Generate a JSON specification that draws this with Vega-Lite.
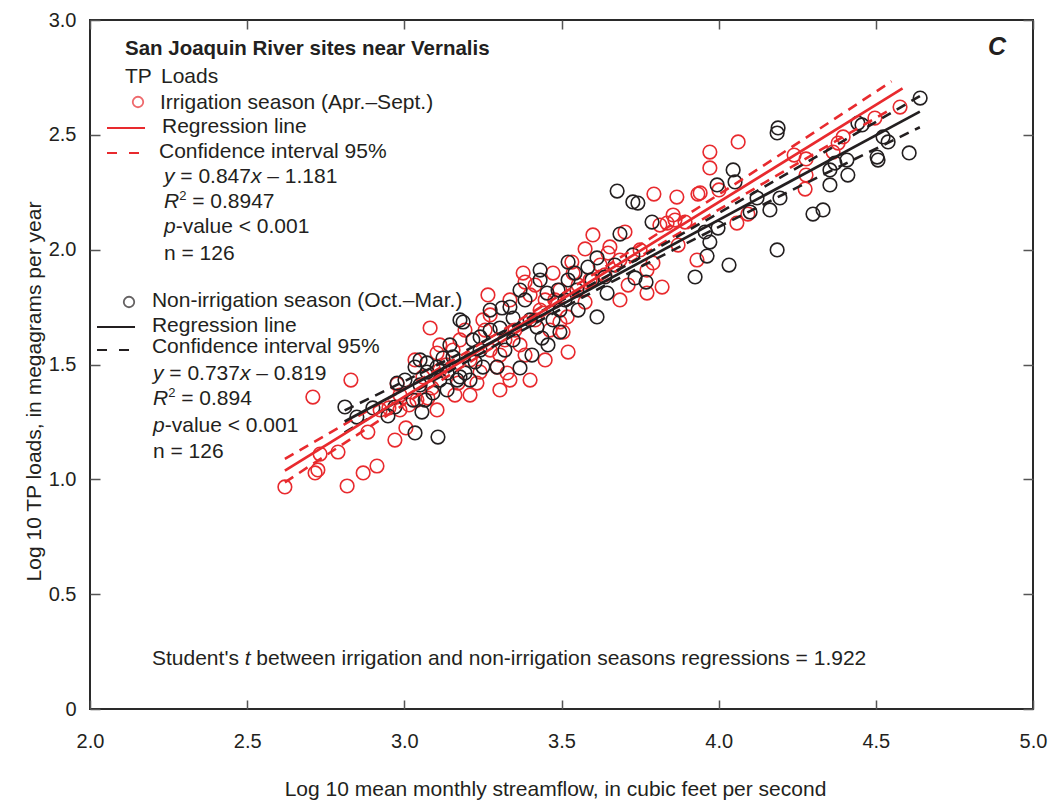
{
"$schema": "https://vega.github.io/schema/vega-lite/v6.json",
"width": 943, "height": 689,
"autosize": {"type": "none"},
"padding": {"left": 90, "top": 20, "right": 19, "bottom": 95},
"background": "white",
"config": {"view": {"stroke": "#2a2a2a", "strokeWidth": 2}, "font": "Liberation Sans"},
"datasets": {
"pts": [
{"s":"Irrigation","x":2.620,"y":0.967},{"s":"Irrigation","x":2.716,"y":1.028},{"s":"Irrigation","x":2.725,"y":1.041},{"s":"Irrigation","x":2.732,"y":1.110},{"s":"Irrigation","x":2.789,"y":1.119},{"s":"Irrigation","x":2.818,"y":0.971},{"s":"Irrigation","x":2.869,"y":1.028},{"s":"Irrigation","x":2.913,"y":1.058},{"s":"Irrigation","x":2.709,"y":1.358},{"s":"Irrigation","x":2.830,"y":1.432},
{"s":"Irrigation","x":2.884,"y":1.206},{"s":"Irrigation","x":2.970,"y":1.171},{"s":"Irrigation","x":3.005,"y":1.224},{"s":"Irrigation","x":2.977,"y":1.415},{"s":"Irrigation","x":3.082,"y":1.659},{"s":"Irrigation","x":3.104,"y":1.550},{"s":"Irrigation","x":3.059,"y":1.446},{"s":"Irrigation","x":3.040,"y":1.345},{"s":"Irrigation","x":3.075,"y":1.354},{"s":"Irrigation","x":3.088,"y":1.398},
{"s":"Irrigation","x":2.986,"y":1.302},{"s":"Irrigation","x":2.951,"y":1.311},{"s":"Irrigation","x":3.015,"y":1.324},{"s":"Irrigation","x":3.155,"y":1.563},{"s":"Irrigation","x":3.177,"y":1.607},{"s":"Irrigation","x":3.133,"y":1.498},{"s":"Irrigation","x":3.231,"y":1.419},{"s":"Irrigation","x":3.266,"y":1.803},{"s":"Irrigation","x":3.250,"y":1.694},{"s":"Irrigation","x":3.257,"y":1.650},
{"s":"Irrigation","x":3.295,"y":1.489},{"s":"Irrigation","x":3.327,"y":1.463},{"s":"Irrigation","x":3.336,"y":1.432},{"s":"Irrigation","x":3.378,"y":1.898},{"s":"Irrigation","x":3.384,"y":1.859},{"s":"Irrigation","x":3.400,"y":1.803},{"s":"Irrigation","x":3.473,"y":1.898},{"s":"Irrigation","x":3.533,"y":1.946},{"s":"Irrigation","x":3.518,"y":1.707},{"s":"Irrigation","x":3.521,"y":1.554},
{"s":"Irrigation","x":3.209,"y":1.520},{"s":"Irrigation","x":3.273,"y":1.563},{"s":"Irrigation","x":3.352,"y":1.650},{"s":"Irrigation","x":3.368,"y":1.585},{"s":"Irrigation","x":3.432,"y":1.737},{"s":"Irrigation","x":3.448,"y":1.781},{"s":"Irrigation","x":3.416,"y":1.694},{"s":"Irrigation","x":3.479,"y":1.781},{"s":"Irrigation","x":3.600,"y":2.064},{"s":"Irrigation","x":3.575,"y":2.003},
{"s":"Irrigation","x":3.654,"y":2.012},{"s":"Irrigation","x":3.648,"y":1.985},{"s":"Irrigation","x":3.537,"y":1.898},{"s":"Irrigation","x":3.772,"y":1.911},{"s":"Irrigation","x":3.791,"y":1.942},{"s":"Irrigation","x":3.712,"y":1.846},{"s":"Irrigation","x":3.772,"y":1.811},{"s":"Irrigation","x":3.820,"y":1.837},{"s":"Irrigation","x":3.575,"y":1.772},{"s":"Irrigation","x":3.495,"y":1.685},
{"s":"Irrigation","x":3.505,"y":1.641},{"s":"Irrigation","x":3.638,"y":1.890},{"s":"Irrigation","x":3.794,"y":2.242},{"s":"Irrigation","x":3.867,"y":2.229},{"s":"Irrigation","x":3.934,"y":2.242},{"s":"Irrigation","x":3.855,"y":2.151},{"s":"Irrigation","x":3.861,"y":2.129},{"s":"Irrigation","x":3.813,"y":2.107},{"s":"Irrigation","x":3.836,"y":2.116},{"s":"Irrigation","x":3.893,"y":2.120},
{"s":"Irrigation","x":3.871,"y":2.020},{"s":"Irrigation","x":3.931,"y":1.955},{"s":"Irrigation","x":3.972,"y":2.356},{"s":"Irrigation","x":3.972,"y":2.425},{"s":"Irrigation","x":4.062,"y":2.469},{"s":"Irrigation","x":3.941,"y":2.247},{"s":"Irrigation","x":4.001,"y":2.260},{"s":"Irrigation","x":4.240,"y":2.412},{"s":"Irrigation","x":4.278,"y":2.395},{"s":"Irrigation","x":4.278,"y":2.325},
{"s":"Irrigation","x":4.275,"y":2.264},{"s":"Irrigation","x":4.058,"y":2.116},{"s":"Irrigation","x":4.093,"y":2.155},{"s":"Irrigation","x":4.364,"y":2.425},{"s":"Irrigation","x":4.396,"y":2.491},{"s":"Irrigation","x":4.380,"y":2.464},{"s":"Irrigation","x":4.497,"y":2.573},{"s":"Irrigation","x":4.577,"y":2.621},{"s":"Irrigation","x":3.113,"y":1.476},{"s":"Irrigation","x":3.171,"y":1.419},
{"s":"Irrigation","x":3.209,"y":1.367},{"s":"Irrigation","x":3.241,"y":1.467},{"s":"Irrigation","x":3.304,"y":1.541},{"s":"Irrigation","x":3.320,"y":1.607},{"s":"Irrigation","x":3.384,"y":1.541},{"s":"Irrigation","x":3.400,"y":1.432},{"s":"Irrigation","x":3.448,"y":1.520},{"s":"Irrigation","x":3.463,"y":1.650},{"s":"Irrigation","x":3.495,"y":1.824},{"s":"Irrigation","x":3.553,"y":1.846},
{"s":"Irrigation","x":3.591,"y":1.868},{"s":"Irrigation","x":3.623,"y":1.933},{"s":"Irrigation","x":3.686,"y":1.955},{"s":"Irrigation","x":3.702,"y":2.077},{"s":"Irrigation","x":3.750,"y":1.999},{"s":"Irrigation","x":3.034,"y":1.520},{"s":"Irrigation","x":2.986,"y":1.367},{"s":"Irrigation","x":3.113,"y":1.585},{"s":"Irrigation","x":3.193,"y":1.650},{"s":"Irrigation","x":3.273,"y":1.716},
{"s":"Irrigation","x":3.336,"y":1.781},{"s":"Irrigation","x":3.416,"y":1.846},{"s":"Irrigation","x":3.304,"y":1.389},{"s":"Irrigation","x":2.923,"y":1.302},{"s":"Irrigation","x":3.104,"y":1.302},{"s":"Irrigation","x":3.161,"y":1.367},{"s":"Irrigation","x":3.686,"y":1.781},
{"s":"Non-irrigation","x":2.811,"y":1.315},{"s":"Non-irrigation","x":2.849,"y":1.271},{"s":"Non-irrigation","x":3.034,"y":1.202},{"s":"Non-irrigation","x":3.107,"y":1.184},{"s":"Non-irrigation","x":3.056,"y":1.293},{"s":"Non-irrigation","x":3.028,"y":1.345},{"s":"Non-irrigation","x":2.970,"y":1.315},{"s":"Non-irrigation","x":2.948,"y":1.276},{"s":"Non-irrigation","x":2.977,"y":1.419},{"s":"Non-irrigation","x":3.034,"y":1.489},
{"s":"Non-irrigation","x":3.072,"y":1.507},{"s":"Non-irrigation","x":3.104,"y":1.489},{"s":"Non-irrigation","x":3.091,"y":1.376},{"s":"Non-irrigation","x":3.136,"y":1.389},{"s":"Non-irrigation","x":3.168,"y":1.432},{"s":"Non-irrigation","x":3.177,"y":1.694},{"s":"Non-irrigation","x":3.187,"y":1.685},{"s":"Non-irrigation","x":3.193,"y":1.463},{"s":"Non-irrigation","x":3.218,"y":1.607},{"s":"Non-irrigation","x":3.241,"y":1.620},
{"s":"Non-irrigation","x":3.273,"y":1.737},{"s":"Non-irrigation","x":3.311,"y":1.746},{"s":"Non-irrigation","x":3.336,"y":1.750},{"s":"Non-irrigation","x":3.346,"y":1.702},{"s":"Non-irrigation","x":3.304,"y":1.659},{"s":"Non-irrigation","x":3.346,"y":1.607},{"s":"Non-irrigation","x":3.295,"y":1.489},{"s":"Non-irrigation","x":3.250,"y":1.489},{"s":"Non-irrigation","x":3.209,"y":1.432},{"s":"Non-irrigation","x":3.432,"y":1.911},
{"s":"Non-irrigation","x":3.432,"y":1.868},{"s":"Non-irrigation","x":3.521,"y":1.946},{"s":"Non-irrigation","x":3.543,"y":1.898},{"s":"Non-irrigation","x":3.549,"y":1.824},{"s":"Non-irrigation","x":3.489,"y":1.824},{"s":"Non-irrigation","x":3.454,"y":1.811},{"s":"Non-irrigation","x":3.473,"y":1.694},{"s":"Non-irrigation","x":3.495,"y":1.641},{"s":"Non-irrigation","x":3.438,"y":1.615},{"s":"Non-irrigation","x":3.457,"y":1.585},
{"s":"Non-irrigation","x":3.406,"y":1.541},{"s":"Non-irrigation","x":3.368,"y":1.485},{"s":"Non-irrigation","x":3.422,"y":1.663},{"s":"Non-irrigation","x":3.155,"y":1.533},{"s":"Non-irrigation","x":3.123,"y":1.528},{"s":"Non-irrigation","x":3.050,"y":1.520},{"s":"Non-irrigation","x":3.072,"y":1.467},{"s":"Non-irrigation","x":3.113,"y":1.432},{"s":"Non-irrigation","x":3.136,"y":1.463},{"s":"Non-irrigation","x":3.066,"y":1.345},
{"s":"Non-irrigation","x":3.177,"y":1.446},{"s":"Non-irrigation","x":3.225,"y":1.511},{"s":"Non-irrigation","x":3.241,"y":1.563},{"s":"Non-irrigation","x":3.677,"y":2.255},{"s":"Non-irrigation","x":3.727,"y":2.208},{"s":"Non-irrigation","x":3.743,"y":2.203},{"s":"Non-irrigation","x":3.788,"y":2.120},{"s":"Non-irrigation","x":3.686,"y":2.068},{"s":"Non-irrigation","x":3.727,"y":1.977},{"s":"Non-irrigation","x":3.613,"y":1.964},
{"s":"Non-irrigation","x":3.584,"y":1.924},{"s":"Non-irrigation","x":3.597,"y":1.868},{"s":"Non-irrigation","x":3.521,"y":1.868},{"s":"Non-irrigation","x":3.638,"y":1.881},{"s":"Non-irrigation","x":3.734,"y":1.877},{"s":"Non-irrigation","x":3.769,"y":1.859},{"s":"Non-irrigation","x":3.925,"y":1.881},{"s":"Non-irrigation","x":3.963,"y":1.972},{"s":"Non-irrigation","x":3.972,"y":2.033},{"s":"Non-irrigation","x":3.957,"y":2.077},
{"s":"Non-irrigation","x":3.995,"y":2.282},{"s":"Non-irrigation","x":3.645,"y":1.811},{"s":"Non-irrigation","x":3.613,"y":1.707},{"s":"Non-irrigation","x":3.553,"y":1.737},{"s":"Non-irrigation","x":3.511,"y":1.781},{"s":"Non-irrigation","x":4.189,"y":2.530},{"s":"Non-irrigation","x":4.186,"y":2.508},{"s":"Non-irrigation","x":4.046,"y":2.347},{"s":"Non-irrigation","x":4.052,"y":2.295},{"s":"Non-irrigation","x":4.122,"y":2.225},
{"s":"Non-irrigation","x":4.195,"y":2.225},{"s":"Non-irrigation","x":4.163,"y":2.173},{"s":"Non-irrigation","x":4.100,"y":2.164},{"s":"Non-irrigation","x":4.300,"y":2.155},{"s":"Non-irrigation","x":4.332,"y":2.173},{"s":"Non-irrigation","x":4.354,"y":2.347},{"s":"Non-irrigation","x":4.354,"y":2.282},{"s":"Non-irrigation","x":4.408,"y":2.390},{"s":"Non-irrigation","x":4.411,"y":2.325},{"s":"Non-irrigation","x":3.998,"y":2.094},
{"s":"Non-irrigation","x":4.033,"y":1.933},{"s":"Non-irrigation","x":4.186,"y":1.999},{"s":"Non-irrigation","x":4.641,"y":2.660},{"s":"Non-irrigation","x":4.443,"y":2.551},{"s":"Non-irrigation","x":4.456,"y":2.543},{"s":"Non-irrigation","x":4.523,"y":2.491},{"s":"Non-irrigation","x":4.539,"y":2.469},{"s":"Non-irrigation","x":4.606,"y":2.421},{"s":"Non-irrigation","x":4.504,"y":2.403},{"s":"Non-irrigation","x":4.507,"y":2.390},
{"s":"Non-irrigation","x":4.370,"y":2.377},{"s":"Non-irrigation","x":3.002,"y":1.432},{"s":"Non-irrigation","x":3.050,"y":1.411},{"s":"Non-irrigation","x":3.145,"y":1.585},{"s":"Non-irrigation","x":3.273,"y":1.650},{"s":"Non-irrigation","x":3.384,"y":1.781},{"s":"Non-irrigation","x":3.400,"y":1.694},{"s":"Non-irrigation","x":3.368,"y":1.824},{"s":"Non-irrigation","x":3.320,"y":1.563},{"s":"Non-irrigation","x":3.495,"y":1.737},
{"s":"Non-irrigation","x":3.670,"y":1.933},{"s":"Non-irrigation","x":2.900,"y":1.311}
],
"reg": [
{"s":"Irrigation","x":2.62,"y":1.038},{"s":"Irrigation","x":4.585,"y":2.702},
{"s":"Non-irrigation","x":2.81,"y":1.252},{"s":"Non-irrigation","x":4.64,"y":2.601}
],
"ci": [
{"s":"Irrigation","b":"u","x":2.62,"y":1.089},{"s":"Irrigation","b":"u","x":3.0,"y":1.393},{"s":"Irrigation","b":"u","x":3.5,"y":1.806},{"s":"Irrigation","b":"u","x":4.0,"y":2.240},{"s":"Irrigation","b":"u","x":4.55,"y":2.733},
{"s":"Irrigation","b":"l","x":2.62,"y":0.987},{"s":"Irrigation","b":"l","x":3.0,"y":1.327},{"s":"Irrigation","b":"l","x":3.5,"y":1.762},{"s":"Irrigation","b":"l","x":4.0,"y":2.174},{"s":"Irrigation","b":"l","x":4.55,"y":2.613},
{"s":"Non-irrigation","b":"u","x":2.81,"y":1.300},{"s":"Non-irrigation","b":"u","x":3.2,"y":1.564},{"s":"Non-irrigation","b":"u","x":3.6,"y":1.852},{"s":"Non-irrigation","b":"u","x":4.1,"y":2.238},{"s":"Non-irrigation","b":"u","x":4.64,"y":2.669},
{"s":"Non-irrigation","b":"l","x":2.81,"y":1.204},{"s":"Non-irrigation","b":"l","x":3.2,"y":1.514},{"s":"Non-irrigation","b":"l","x":3.6,"y":1.816},{"s":"Non-irrigation","b":"l","x":4.1,"y":2.168},{"s":"Non-irrigation","b":"l","x":4.64,"y":2.533}
],
"lsym": [{"s":"Irrigation","x":2.1527,"y":2.6429},{"s":"Non-irrigation","x":2.1241,"y":1.7721}],
"lsolid": [{"s":"Irrigation","x":2.0541,"x2":2.175,"y":2.5297},{"s":"Non-irrigation","x":2.0223,"x2":2.1432,"y":1.6633}],
"ldash": [{"s":"Irrigation","x":2.0541,"x2":2.1591,"y":2.4208},{"s":"Non-irrigation","x":2.0223,"x2":2.1273,"y":1.5631}],
"tnormal": [
{"t":"TP","x":2.1113,"y":2.7257},
{"t":"Loads","x":2.2259,"y":2.7257},
{"t":"Irrigation season (Apr.–Sept.)","x":2.2227,"y":2.6124},
{"t":"Regression line","x":2.229,"y":2.508},
{"t":"Confidence interval 95%","x":2.2195,"y":2.399},
{"t":"= 0.847","x":2.2873,"y":2.290},
{"t":"– 1.181","x":2.5641,"y":2.290},
{"t":"= 0.8947","x":2.3251,"y":2.181},
{"t":"-value < 0.001","x":2.2726,"y":2.0725},
{"t":"n = 126","x":2.2354,"y":1.955},
{"t":"Non-irrigation season (Oct.–Mar.)","x":2.197,"y":1.750},
{"t":"Regression line","x":2.197,"y":1.6415},
{"t":"Confidence interval 95%","x":2.197,"y":1.550},
{"t":"= 0.737","x":2.2523,"y":1.4325},
{"t":"– 0.819","x":2.5291,"y":1.4325},
{"t":"= 0.894","x":2.2901,"y":1.3236},
{"t":"-value < 0.001","x":2.2377,"y":1.206},
{"t":"n = 126","x":2.2004,"y":1.093},
{"t":"Student's","x":2.1972,"y":0.1916},
{"t":"between irrigation and non-irrigation seasons regressions = 1.922","x":2.5291,"y":0.1916}
],
"titalic": [
{"t":"y","x":2.2354,"y":2.290},{"t":"x","x":2.5122,"y":2.290},{"t":"R","x":2.2354,"y":2.181},{"t":"p","x":2.2354,"y":2.0725},
{"t":"y","x":2.2004,"y":1.4325},{"t":"x","x":2.4772,"y":1.4325},{"t":"R","x":2.2004,"y":1.3236},{"t":"p","x":2.2004,"y":1.206},
{"t":"t","x":2.4922,"y":0.1916}
],
"tsup": [{"t":"2","x":2.2838,"y":2.216},{"t":"2","x":2.2488,"y":1.3584}],
"tbold": [{"t":"San Joaquin River sites near Vernalis","x":2.1113,"y":2.8476}],
"tbi": [{"t":"C","x":4.8855,"y":2.8476}]
},
"resolve": {"axis": {"x": "independent", "y": "independent"}},
"layer": [
{
"data": {"name": "pts"},
"mark": {"type": "point", "shape": "circle", "filled": false, "size": 185, "strokeWidth": 1.6, "opacity": 1},
"encoding": {
"x": {"field": "x", "type": "quantitative", "scale": {"domain": [2, 5], "nice": false, "zero": false},
"axis": {"orient": "bottom", "values": [2, 2.5, 3, 3.5, 4, 4.5, 5], "format": ".1f", "grid": true, "gridColor": "#555555", "gridOpacity": 1, "gridWidth": 1.5, "gridDash": [9, 671, 9], "domain": false, "ticks": false, "labelPadding": 22, "labelFont": "Liberation Sans", "labelFontSize": 20, "labelColor": "#231f20", "labelFlush": false,
"title": "Log 10 mean monthly streamflow, in cubic feet per second", "titleFont": "Liberation Sans", "titleFontSize": 21, "titleFontWeight": "normal", "titleColor": "#231f20", "titleX": 465, "titleY": 86, "titleBaseline": "alphabetic", "titleAlign": "center", "titleAnchor": null}},
"y": {"field": "y", "type": "quantitative", "scale": {"domain": [0, 3], "nice": false, "zero": false},
"axis": {"orient": "left", "values": [0, 0.5, 1, 1.5, 2, 2.5, 3], "labelExpr": "datum.value == 0 ? '0' : format(datum.value, '.1f')", "grid": true, "gridColor": "#555555", "gridOpacity": 1, "gridWidth": 1.5, "gridDash": [10, 923, 10], "domain": false, "ticks": false, "labelPadding": 14, "labelFont": "Liberation Sans", "labelFontSize": 20, "labelColor": "#231f20", "labelFlush": false,
"title": "Log 10 TP loads, in megagrams per year", "titleFont": "Liberation Sans", "titleFontSize": 21, "titleFontWeight": "normal", "titleColor": "#231f20", "titleAngle": -90, "titleX": -50, "titleY": 371, "titleBaseline": "alphabetic", "titleAlign": "center", "titleAnchor": null}},
"color": {"field": "s", "type": "nominal", "scale": {"domain": ["Irrigation", "Non-irrigation"], "range": ["#e82a2e", "#231f20"]}, "legend": null}
}
},
{
"data": {"name": "ci"},
"mark": {"type": "line", "strokeWidth": 2.6, "strokeDash": [10, 7], "interpolate": "monotone"},
"encoding": {
"x": {"field": "x", "type": "quantitative", "axis": null},
"y": {"field": "y", "type": "quantitative", "axis": null},
"color": {"field": "s", "type": "nominal", "legend": null},
"detail": {"field": "b"}
}
},
{
"data": {"name": "reg"},
"mark": {"type": "line", "strokeWidth": 2.7},
"encoding": {
"x": {"field": "x", "type": "quantitative", "axis": null},
"y": {"field": "y", "type": "quantitative", "axis": null},
"color": {"field": "s", "type": "nominal", "legend": null}
}
},
{
"data": {"name": "lsym"},
"mark": {"type": "point", "shape": "circle", "filled": false, "size": 110, "strokeWidth": 1.8},
"encoding": {
"x": {"field": "x", "type": "quantitative", "axis": null},
"y": {"field": "y", "type": "quantitative", "axis": null},
"color": {"field": "s", "type": "nominal", "legend": null}
}
},
{
"data": {"name": "lsolid"},
"mark": {"type": "rule", "strokeWidth": 2.2},
"encoding": {
"x": {"field": "x", "type": "quantitative", "axis": null},
"x2": {"field": "x2"},
"y": {"field": "y", "type": "quantitative", "axis": null},
"color": {"field": "s", "type": "nominal", "legend": null}
}
},
{
"data": {"name": "ldash"},
"mark": {"type": "rule", "strokeWidth": 2.2, "strokeDash": [10, 12]},
"encoding": {
"x": {"field": "x", "type": "quantitative", "axis": null},
"x2": {"field": "x2"},
"y": {"field": "y", "type": "quantitative", "axis": null},
"color": {"field": "s", "type": "nominal", "legend": null}
}
},
{
"data": {"name": "tnormal"},
"mark": {"type": "text", "align": "left", "baseline": "alphabetic", "font": "Liberation Sans", "fontSize": 21, "color": "#231f20"},
"encoding": {
"x": {"field": "x", "type": "quantitative", "axis": null},
"y": {"field": "y", "type": "quantitative", "axis": null},
"text": {"field": "t"}
}
},
{
"data": {"name": "titalic"},
"mark": {"type": "text", "align": "left", "baseline": "alphabetic", "font": "Liberation Sans", "fontSize": 21, "fontStyle": "italic", "color": "#231f20"},
"encoding": {
"x": {"field": "x", "type": "quantitative", "axis": null},
"y": {"field": "y", "type": "quantitative", "axis": null},
"text": {"field": "t"}
}
},
{
"data": {"name": "tsup"},
"mark": {"type": "text", "align": "left", "baseline": "alphabetic", "font": "Liberation Sans", "fontSize": 13, "color": "#231f20"},
"encoding": {
"x": {"field": "x", "type": "quantitative", "axis": null},
"y": {"field": "y", "type": "quantitative", "axis": null},
"text": {"field": "t"}
}
},
{
"data": {"name": "tbold"},
"mark": {"type": "text", "align": "left", "baseline": "alphabetic", "font": "Liberation Sans", "fontSize": 20.5, "fontWeight": "bold", "color": "#231f20"},
"encoding": {
"x": {"field": "x", "type": "quantitative", "axis": null},
"y": {"field": "y", "type": "quantitative", "axis": null},
"text": {"field": "t"}
}
},
{
"data": {"name": "tbi"},
"mark": {"type": "text", "align": "center", "baseline": "alphabetic", "font": "Liberation Sans", "fontSize": 25, "fontWeight": "bold", "fontStyle": "italic", "color": "#231f20"},
"encoding": {
"x": {"field": "x", "type": "quantitative", "axis": null},
"y": {"field": "y", "type": "quantitative", "axis": null},
"text": {"field": "t"}
}
}
]
}
